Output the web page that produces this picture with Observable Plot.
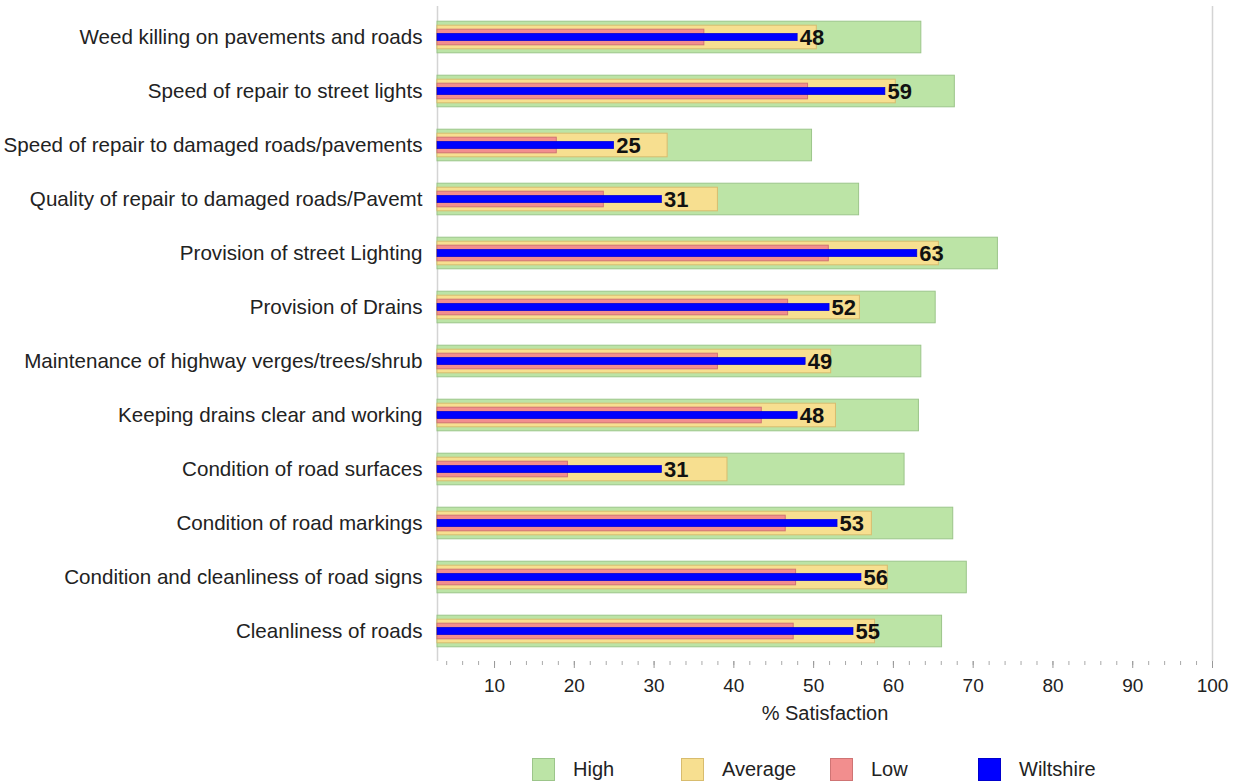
<!DOCTYPE html>
<html>
<head>
<meta charset="utf-8">
<script src="https://cdn.jsdelivr.net/npm/d3@7"></script>
<script src="https://cdn.jsdelivr.net/npm/@observablehq/plot@0.6"></script>
<style>
  html, body { margin: 0; padding: 0; background: #fff; }
  body { font-family: "Liberation Sans", Arial, sans-serif; width: 1238px; height: 783px; overflow: hidden; }
  #legend { position: relative; height: 40px; margin-top: 18px; }
  .item { position: absolute; top: 0; display: flex; align-items: center; font-size: 20px; color: #222; }
  .sw { width: 23px; height: 23px; box-sizing: border-box; margin-right: 18px; border: 1px solid; }
</style>
</head>
<body>
<div id="chart"></div>
<div id="legend"></div>
<script>
const categories = [
  "Weed killing on pavements and roads",
  "Speed of repair to street lights",
  "Speed of repair to damaged roads/pavements",
  "Quality of repair to damaged roads/Pavemt",
  "Provision of street Lighting",
  "Provision of Drains",
  "Maintenance of highway verges/trees/shrub",
  "Keeping drains clear and working",
  "Condition of road surfaces",
  "Condition of road markings",
  "Condition and cleanliness of road signs",
  "Cleanliness of roads"
];
const high      = [63.5, 67.7, 49.8, 55.7, 73.1, 65.3, 63.5, 63.2, 61.4, 67.5, 69.2, 66.1];
const average   = [50.4, 60.3, 31.7, 38.0, 65.7, 55.8, 52.2, 52.8, 39.2, 57.3, 59.3, 57.7];
const low       = [36.3, 49.3, 17.8, 23.7, 51.9, 46.8, 38.0, 43.5, 19.2, 46.5, 47.8, 47.5];
const wiltshire = [48, 59, 25, 31, 63, 52, 49, 48, 31, 53, 56, 55];
const majorTicks = [10, 20, 30, 40, 50, 60, 70, 80, 90, 100];
const minorTicks = d3.range(4, 101, 2);
const xMin = 2.85, xMax = 100;

const series = [
  {name: "High", fill: "#bce4a6", stroke: "#9cc58a"},
  {name: "Average", fill: "#f7df90", stroke: "#d8bc6e"},
  {name: "Low", fill: "#f28e8e", stroke: "#cf7474"},
  {name: "Wiltshire", fill: "#0000ff", stroke: "#0000cc"}
];

const rows = categories.map((c, i) => ({
  category: c, high: high[i], average: average[i], low: low[i], wiltshire: wiltshire[i]
}));

const chart = Plot.plot({
  width: 1238,
  height: 740,
  marginLeft: 437,
  marginRight: 26,
  marginTop: 6,
  marginBottom: 79,
  style: {fontFamily: "'Liberation Sans', Arial, sans-serif", background: "#fff"},
  x: {domain: [xMin, xMax]},
  y: {domain: categories, padding: 0},
  marks: [
    Plot.ruleX([xMin], {stroke: "#d4d4d4", strokeWidth: 1.5}),
    Plot.ruleX([xMax], {stroke: "#d4d4d4", strokeWidth: 1.5}),
    Plot.barX(rows, {y: "category", x1: () => xMin, x2: "high", fill: series[0].fill, stroke: series[0].stroke, insetTop: 11.2, insetBottom: 11.2}),
    Plot.barX(rows, {y: "category", x1: () => xMin, x2: "average", fill: series[1].fill, stroke: series[1].stroke, insetTop: 15.2, insetBottom: 15.2}),
    Plot.barX(rows, {y: "category", x1: () => xMin, x2: "low", fill: series[2].fill, stroke: series[2].stroke, insetTop: 19.2, insetBottom: 19.2}),
    Plot.barX(rows, {y: "category", x1: () => xMin, x2: "wiltshire", fill: series[3].fill, stroke: series[3].stroke, strokeWidth: 0.6, insetTop: 23.3, insetBottom: 23.3}),
    Plot.text(rows, {y: "category", x: "wiltshire", text: d => String(d.wiltshire), textAnchor: "start", dx: 2, fontSize: 22, fontWeight: "bold", fill: "#111"}),
    Plot.axisY({tickSize: 0, tickPadding: 15, fontSize: 20.6, fill: "#222", label: null}),
    Plot.axisX({ticks: minorTicks, tickSize: 4, text: null, stroke: "#aaa", label: null}),
    Plot.axisX({ticks: majorTicks, tickSize: 7, text: null, stroke: "#999", label: null}),
    Plot.axisX({ticks: majorTicks, tickSize: 0, tickPadding: 17, fontSize: 19, fill: "#222",
      label: "% Satisfaction", labelAnchor: "center", labelArrow: "none", labelOffset: 58})
  ]
});
chart.querySelectorAll("text").forEach(t => {
  if (t.textContent === "% Satisfaction") t.setAttribute("font-size", 20);
});
document.getElementById("chart").appendChild(chart);

const legend = document.getElementById("legend");
const starts = [532, 681, 830, 978];
series.forEach((s, i) => {
  const item = document.createElement("div");
  item.className = "item";
  item.style.left = starts[i] + "px";
  const sw = document.createElement("div");
  sw.className = "sw";
  sw.style.background = s.fill;
  sw.style.borderColor = s.stroke;
  const label = document.createElement("span");
  label.textContent = s.name;
  item.appendChild(sw);
  item.appendChild(label);
  legend.appendChild(item);
});
</script>
</body>
</html>
